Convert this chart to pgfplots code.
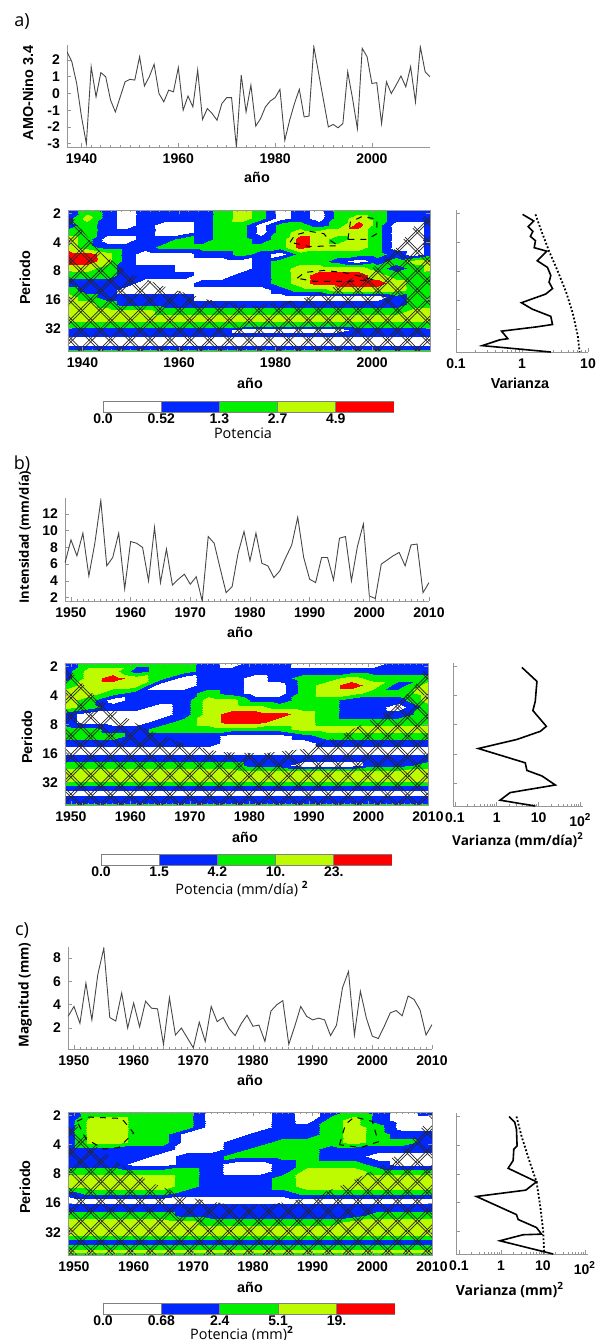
\documentclass[border=0pt]{standalone}
\usepackage{fontspec}
\setmainfont{Liberation Sans}
\newfontfamily\osans{Open Sans}
\usepackage{pgfplots}
\usepackage{pgfplotstable}
\pgfplotsset{compat=1.18}
\usetikzlibrary{patterns.meta}
\definecolor{wblue}{RGB}{0,40,255}
\definecolor{wgreen}{RGB}{0,240,0}
\definecolor{wyellow}{RGB}{190,250,0}
\definecolor{wred}{RGB}{255,0,0}
\definecolor{axg}{RGB}{150,150,150}
\newcommand{\tl}{\bfseries\fontsize{7}{8}\selectfont}
\newcommand{\lbl}{\bfseries\fontsize{7.2}{8.5}\selectfont}
\pgfplotsset{
  colormap={wav}{color(0cm)=(white) color(1cm)=(white) color(1.01cm)=(wblue) color(2cm)=(wblue)
    color(2.01cm)=(wgreen) color(3cm)=(wgreen) color(3.01cm)=(wyellow) color(4cm)=(wyellow)
    color(4.01cm)=(wred) color(5cm)=(wred)},
  mybase/.style={scale only axis, anchor=south west, tick label style={font=\tl},
    /pgf/number format/1000 sep={}, /pgf/number format/assume math mode=true,
    axis line style={axg}, tick style={axg, line width=0.4pt},
    major tick length=2pt, minor tick length=1.2pt},
  myserie/.style={mybase, axis x line*=bottom, axis y line*=left, minor x tick num=9},
  mywave/.style={mybase, y dir=reverse, ymin=0.88, ymax=5.78, ytick={1,2,3,4,5},
    yticklabels={2,4,8,16,32}, axis on top, colormap name=wav,
    point meta min=-0.5, point meta max=4.5, minor x tick num=9},
  mygws/.style={mybase, y dir=reverse, ymin=0.88, ymax=5.78, ytick={1,2,3,4,5},
    yticklabels={}, axis x line*=bottom, axis y line*=left},
  mycbar/.style={mybase, xmin=0, xmax=5, ymin=0, ymax=1, xtick={0,1,2,3,4}, ytick=\empty,
    major tick length=0pt, axis line style={draw=none}, xticklabel style={yshift=2.5pt}},
  h1/.style={draw=none, pattern={Lines[angle=45,distance=7pt,line width=0.35pt]}, pattern color=black!85},
  h2/.style={draw=none, pattern={Lines[angle=45,distance=7pt,xshift=1.6pt,line width=0.35pt]}, pattern color=black!85},
  h3/.style={draw=none, pattern={Lines[angle=-45,distance=7pt,line width=0.35pt]}, pattern color=black!85},
  h4/.style={draw=none, pattern={Lines[angle=-45,distance=7pt,xshift=1.6pt,line width=0.35pt]}, pattern color=black!85},
  sig/.style={black, dashed, line width=0.5pt},
  ser/.style={black!72, line width=0.45pt},
}
% cones of influence (year, octave of period: 1 = 2 yr)
\pgfplotstableread{
x y
1937 0.88
1940 1.6
1944 2.4
1950 3.1
1958 3.6
1966 4.0
1975 4.2
1985 4.0
1993 3.5
2000 2.9
2005 2.2
2009 1.4
2012 0.88
2012 5.78
1937 5.78
}\coiA
\pgfplotstableread{
x y
1949 0.88
1951 1.4
1954 2.0
1958 2.6
1962 3.1
1968 3.6
1975 3.95
1982 4.0
1989 3.85
1995 3.4
2000 2.9
2005 2.3
2008 1.6
2010 0.88
2010 5.78
1949 5.78
}\coiB
\pgfplotstableread{
x y
1949 0.88
1951 1.5
1954 2.1
1958 2.7
1963 3.3
1969 3.8
1976 4.05
1983 4.05
1990 3.8
1996 3.3
2001 2.8
2005 2.2
2008 1.5
2010 0.88
2010 5.78
1949 5.78
}\coiC
\begin{document}
\begin{tikzpicture}
\useasboundingbox (0,0) rectangle (299.5pt,-670pt);

% ---------------- a) ----------------
\begin{axis}[myserie, at={(33.5pt,-73.5pt)}, width=181.5pt, height=51pt,
  xmin=1937, xmax=2012, ymin=-3.2, ymax=2.9, xtick={1940,1960,1980,2000}, ytick={-3,-2,...,2}]
\addplot[ser] table {
1937 2.5
1938 1.9
1939 0.6
1940 -1.4
1941 -3.0
1942 1.6
1943 -0.2
1944 1.25
1945 1.0
1946 -0.4
1947 -1.1
1948 -0.2
1949 0.7
1950 0.85
1951 0.8
1952 2.2
1953 0.45
1954 1.0
1955 1.75
1956 0.0
1957 -0.5
1958 0.2
1959 0.1
1960 1.55
1961 -1.0
1962 -0.15
1963 -0.8
1964 1.4
1965 -1.55
1966 -0.9
1967 -1.2
1968 -1.6
1969 -0.6
1970 -0.25
1971 -0.25
1972 -3.2
1973 1.1
1974 -1.1
1975 0.5
1976 -1.95
1977 -1.5
1978 -0.8
1979 -0.45
1980 -0.25
1981 0.25
1982 -2.8
1983 -1.6
1984 -0.6
1985 0.25
1986 -1.4
1987 -1.35
1988 2.8
1989 1.2
1990 -0.4
1991 -2.0
1992 -1.85
1993 -2.05
1994 -1.8
1995 1.3
1996 -0.3
1997 -2.1
1998 2.7
1999 2.2
2000 0.6
2001 0.65
2002 -1.8
2003 0.7
2004 0.0
2005 0.5
2006 1.05
2007 0.4
2008 1.6
2009 -0.5
2010 2.8
2011 1.3
2012 1.0
};
\end{axis}

\begin{axis}[mywave, at={(34pt,-175.5pt)}, width=181pt, height=70.5pt,
  xmin=1937, xmax=2012, xtick={1940,1960,1980,2000}]
\addplot[surf, shader=interp, mesh/cols=20, point meta=\thisrow{z}] table[x=x, y=y, row sep=\\] {
x y z\\
1937 0.88 1\\1941 0.88 2\\1945 0.88 1\\1949 0.88 0\\1953 0.88 1\\1957 0.88 1\\1961 0.88 1\\1965 0.88 1\\1969 0.88 2\\1973 0.88 3\\1977 0.88 2\\1981 0.88 0\\1985 0.88 1\\1989 0.88 0\\1993 0.88 2\\1997 0.88 2\\2001 0.88 2\\2005 0.88 1\\2009 0.88 1\\2012 0.88 1\\
1937 1.15 1\\1941 1.15 3\\1945 1.15 1\\1949 1.15 0\\1953 1.15 1\\1957 1.15 1\\1961 1.15 1\\1965 1.15 1\\1969 1.15 2\\1973 1.15 3\\1977 1.15 2\\1981 1.15 0\\1985 1.15 1\\1989 1.15 0\\1993 1.15 2\\1997 1.15 3\\2001 1.15 2\\2005 1.15 1\\2009 1.15 1\\2012 1.15 1\\
1937 1.4 1\\1941 1.4 2\\1945 1.4 1\\1949 1.4 0\\1953 1.4 1\\1957 1.4 0\\1961 1.4 0\\1965 1.4 1\\1969 1.4 2\\1973 1.4 2\\1977 1.4 0\\1981 1.4 2\\1985 1.4 2\\1989 1.4 1\\1993 1.4 2\\1997 1.4 4\\2001 1.4 2\\2005 1.4 0\\2009 1.4 0\\2012 1.4 1\\
1937 1.65 2\\1941 1.65 2\\1945 1.65 1\\1949 1.65 1\\1953 1.65 1\\1957 1.65 0\\1961 1.65 0\\1965 1.65 1\\1969 1.65 2\\1973 1.65 2\\1977 1.65 0\\1981 1.65 2\\1985 1.65 3\\1989 1.65 3\\1993 1.65 3\\1997 1.65 3\\2001 1.65 2\\2005 1.65 0\\2009 1.65 0\\2012 1.65 1\\
1937 1.9 3\\1941 1.9 2\\1945 1.9 0\\1949 1.9 0\\1953 1.9 1\\1957 1.9 1\\1961 1.9 2\\1965 1.9 1\\1969 1.9 2\\1973 1.9 2\\1977 1.9 1\\1981 1.9 2\\1985 1.9 4\\1989 1.9 3\\1993 1.9 2\\1997 1.9 3\\2001 1.9 2\\2005 1.9 0\\2009 1.9 0\\2012 1.9 1\\
1937 2.15 3\\1941 2.15 2\\1945 2.15 1\\1949 2.15 1\\1953 2.15 1\\1957 2.15 2\\1961 2.15 2\\1965 2.15 2\\1969 2.15 2\\1973 2.15 2\\1977 2.15 2\\1981 2.15 2\\1985 2.15 4\\1989 2.15 3\\1993 2.15 3\\1997 2.15 3\\2001 2.15 2\\2005 2.15 0\\2009 2.15 0\\2012 2.15 1\\
1937 2.4 4\\1941 2.4 4\\1945 2.4 3\\1949 2.4 1\\1953 2.4 0\\1957 2.4 0\\1961 2.4 0\\1965 2.4 1\\1969 2.4 1\\1973 2.4 2\\1977 2.4 1\\1981 2.4 0\\1985 2.4 2\\1989 2.4 2\\1993 2.4 2\\1997 2.4 2\\2001 2.4 2\\2005 2.4 1\\2009 2.4 0\\2012 2.4 1\\
1937 2.65 4\\1941 2.65 4\\1945 2.65 3\\1949 2.65 1\\1953 2.65 0\\1957 2.65 0\\1961 2.65 0\\1965 2.65 0\\1969 2.65 0\\1973 2.65 0\\1977 2.65 1\\1981 2.65 2\\1985 2.65 2\\1989 2.65 2\\1993 2.65 1\\1997 2.65 0\\2001 2.65 1\\2005 2.65 2\\2009 2.65 3\\2012 2.65 3\\
1937 2.9 3\\1941 2.9 3\\1945 2.9 2\\1949 2.9 1\\1953 2.9 1\\1957 2.9 1\\1961 2.9 0\\1965 2.9 0\\1969 2.9 0\\1973 2.9 0\\1977 2.9 1\\1981 2.9 2\\1985 2.9 3\\1989 2.9 3\\1993 2.9 3\\1997 2.9 3\\2001 2.9 2\\2005 2.9 1\\2009 2.9 2\\2012 2.9 3\\
1937 3.15 2\\1941 3.15 2\\1945 3.15 2\\1949 3.15 1\\1953 3.15 1\\1957 3.15 1\\1961 3.15 1\\1965 3.15 0\\1969 3.15 0\\1973 3.15 1\\1977 3.15 1\\1981 3.15 2\\1985 3.15 3\\1989 3.15 4\\1993 3.15 4\\1997 3.15 4\\2001 3.15 3\\2005 3.15 2\\2009 3.15 2\\2012 3.15 2\\
1937 3.4 1\\1941 3.4 1\\1945 3.4 1\\1949 3.4 1\\1953 3.4 0\\1957 3.4 0\\1961 3.4 0\\1965 3.4 1\\1969 3.4 1\\1973 3.4 1\\1977 3.4 1\\1981 3.4 2\\1985 3.4 3\\1989 3.4 4\\1993 3.4 4\\1997 3.4 4\\2001 3.4 4\\2005 3.4 3\\2009 3.4 2\\2012 3.4 2\\
1937 3.65 2\\1941 3.65 1\\1945 3.65 1\\1949 3.65 0\\1953 3.65 0\\1957 3.65 0\\1961 3.65 0\\1965 3.65 0\\1969 3.65 0\\1973 3.65 0\\1977 3.65 0\\1981 3.65 1\\1985 3.65 2\\1989 3.65 2\\1993 3.65 3\\1997 3.65 3\\2001 3.65 3\\2005 3.65 3\\2009 3.65 2\\2012 3.65 2\\
1937 3.9 3\\1941 3.9 2\\1945 3.9 1\\1949 3.9 1\\1953 3.9 1\\1957 3.9 1\\1961 3.9 1\\1965 3.9 0\\1969 3.9 0\\1973 3.9 0\\1977 3.9 0\\1981 3.9 0\\1985 3.9 0\\1989 3.9 0\\1993 3.9 0\\1997 3.9 0\\2001 3.9 0\\2005 3.9 1\\2009 3.9 2\\2012 3.9 2\\
1937 4.15 3\\1941 4.15 3\\1945 4.15 2\\1949 4.15 1\\1953 4.15 1\\1957 4.15 1\\1961 4.15 1\\1965 4.15 1\\1969 4.15 1\\1973 4.15 1\\1977 4.15 1\\1981 4.15 1\\1985 4.15 1\\1989 4.15 1\\1993 4.15 1\\1997 4.15 1\\2001 4.15 1\\2005 4.15 1\\2009 4.15 2\\2012 4.15 2\\
1937 4.4 3\\1941 4.4 3\\1945 4.4 3\\1949 4.4 3\\1953 4.4 3\\1957 4.4 2\\1961 4.4 2\\1965 4.4 2\\1969 4.4 2\\1973 4.4 2\\1977 4.4 2\\1981 4.4 2\\1985 4.4 2\\1989 4.4 2\\1993 4.4 2\\1997 4.4 2\\2001 4.4 2\\2005 4.4 2\\2009 4.4 3\\2012 4.4 3\\
1937 4.65 3\\1941 4.65 3\\1945 4.65 3\\1949 4.65 3\\1953 4.65 3\\1957 4.65 3\\1961 4.65 3\\1965 4.65 3\\1969 4.65 3\\1973 4.65 3\\1977 4.65 3\\1981 4.65 3\\1985 4.65 3\\1989 4.65 3\\1993 4.65 3\\1997 4.65 3\\2001 4.65 3\\2005 4.65 3\\2009 4.65 3\\2012 4.65 3\\
1937 4.9 2\\1941 4.9 2\\1945 4.9 2\\1949 4.9 2\\1953 4.9 2\\1957 4.9 2\\1961 4.9 2\\1965 4.9 2\\1969 4.9 2\\1973 4.9 2\\1977 4.9 2\\1981 4.9 2\\1985 4.9 2\\1989 4.9 2\\1993 4.9 2\\1997 4.9 2\\2001 4.9 2\\2005 4.9 2\\2009 4.9 2\\2012 4.9 2\\
1937 5.05 1\\1941 5.05 1\\1945 5.05 1\\1949 5.05 1\\1953 5.05 1\\1957 5.05 1\\1961 5.05 1\\1965 5.05 1\\1969 5.05 1\\1973 5.05 0\\1977 5.05 0\\1981 5.05 0\\1985 5.05 0\\1989 5.05 0\\1993 5.05 0\\1997 5.05 1\\2001 5.05 1\\2005 5.05 1\\2009 5.05 1\\2012 5.05 1\\
1937 5.2 1\\1941 5.2 1\\1945 5.2 1\\1949 5.2 1\\1953 5.2 1\\1957 5.2 1\\1961 5.2 1\\1965 5.2 1\\1969 5.2 1\\1973 5.2 1\\1977 5.2 1\\1981 5.2 1\\1985 5.2 1\\1989 5.2 1\\1993 5.2 1\\1997 5.2 1\\2001 5.2 1\\2005 5.2 1\\2009 5.2 1\\2012 5.2 1\\
1937 5.35 0\\1941 5.35 0\\1945 5.35 0\\1949 5.35 0\\1953 5.35 0\\1957 5.35 0\\1961 5.35 0\\1965 5.35 0\\1969 5.35 0\\1973 5.35 0\\1977 5.35 0\\1981 5.35 0\\1985 5.35 0\\1989 5.35 0\\1993 5.35 0\\1997 5.35 0\\2001 5.35 0\\2005 5.35 0\\2009 5.35 0\\2012 5.35 0\\
1937 5.5 0\\1941 5.5 0\\1945 5.5 0\\1949 5.5 0\\1953 5.5 0\\1957 5.5 0\\1961 5.5 0\\1965 5.5 0\\1969 5.5 0\\1973 5.5 0\\1977 5.5 0\\1981 5.5 0\\1985 5.5 0\\1989 5.5 0\\1993 5.5 0\\1997 5.5 0\\2001 5.5 0\\2005 5.5 0\\2009 5.5 0\\2012 5.5 0\\
1937 5.65 1\\1941 5.65 1\\1945 5.65 1\\1949 5.65 1\\1953 5.65 1\\1957 5.65 1\\1961 5.65 1\\1965 5.65 1\\1969 5.65 1\\1973 5.65 1\\1977 5.65 1\\1981 5.65 1\\1985 5.65 1\\1989 5.65 1\\1993 5.65 1\\1997 5.65 1\\2001 5.65 1\\2005 5.65 1\\2009 5.65 1\\2012 5.65 1\\
1937 5.78 2\\1941 5.78 2\\1945 5.78 2\\1949 5.78 2\\1953 5.78 2\\1957 5.78 2\\1961 5.78 2\\1965 5.78 2\\1969 5.78 2\\1973 5.78 2\\1977 5.78 2\\1981 5.78 2\\1985 5.78 2\\1989 5.78 2\\1993 5.78 2\\1997 5.78 2\\2001 5.78 2\\2005 5.78 2\\2009 5.78 2\\2012 5.78 2\\
};
\addplot[h1] table {\coiA};
\addplot[h2] table {\coiA};
\addplot[h3] table {\coiA};
\addplot[h4] table {\coiA};
\addplot[sig] coordinates {(1984.5,3.25)(1986,3.05)(1990,2.98)(1994,3.05)(1998,3.2)(2000,3.3)(1995,3.36)(1988,3.36)(1984.5,3.25)};
\addplot[sig] coordinates {(1983,2.0)(1984,1.75)(1987,1.62)(1990,1.7)(1991,1.9)(1993,2.12)(1987,2.15)(1983,2.0)};
\addplot[sig] coordinates {(1995,1.9)(1995.5,1.3)(1998,1.1)(2001,1.2)(2001,1.7)(1999,1.9)(1995,1.9)};
\end{axis}

\begin{axis}[mygws, xmode=log, at={(228pt,-176pt)}, width=66pt, height=71pt, xmin=0.1, xmax=10,
  xtick={0.1,1,10}, xticklabels={0.1,1,10}]
\addplot[black, line width=0.8pt] coordinates {(1.02,1.03)(1.51,1.26)(1.24,1.45)(1.46,1.62)(1.34,1.79)(1.60,1.94)(1.53,2.18)(2.37,2.30)(1.70,2.63)(2.43,2.86)(2.73,3.14)(2.57,3.37)(2.90,3.59)(2.29,3.78)(0.98,4.08)(1.43,4.30)(2.73,4.55)(2.90,4.83)(1.70,4.91)(0.49,5.06)(0.61,5.32)(0.46,5.36)(0.25,5.56)(2.73,5.78)};
\addplot[black, densely dotted, line width=0.9pt] coordinates {(1.60,1.03)(1.98,1.62)(2.57,2.30)(3.45,2.97)(4.64,3.70)(5.88,4.44)(7.02,5.23)(7.45,5.78)};
\end{axis}

\begin{axis}[mycbar, at={(51.5pt,-206pt)}, width=145.5pt, height=5.5pt, xticklabels={0.0,0.52,1.3,2.7,4.9}]
\addplot[draw=black!50, fill=white] coordinates {(0,0)(1,0)(1,1)(0,1)(0,0)};
\addplot[draw=black!50, fill=wblue] coordinates {(1,0)(2,0)(2,1)(1,1)(1,0)};
\addplot[draw=black!50, fill=wgreen] coordinates {(2,0)(3,0)(3,1)(2,1)(2,0)};
\addplot[draw=black!50, fill=wyellow] coordinates {(3,0)(4,0)(4,1)(3,1)(3,0)};
\addplot[draw=black!50, fill=wred] coordinates {(4,0)(5,0)(5,1)(4,1)(4,0)};
\end{axis}

\node[font=\osans\fontsize{9}{10}\selectfont] at (11pt,-10.5pt) {a)};
\node[rotate=90, font=\lbl] at (14pt,-46.5pt) {AMO-Nino 3.4};
\node[font=\lbl] at (128.5pt,-88.5pt) {año};
\node[rotate=90, font=\lbl] at (12.5pt,-139pt) {Periodo};
\node[font=\lbl] at (125pt,-191.5pt) {año};
\node[font=\lbl] at (260pt,-191.5pt) {Varianza};
\node[font=\osans\fontsize{7.2}{8}\selectfont] at (121.5pt,-216.5pt) {Potencia};

% ---------------- b) ----------------
\begin{axis}[myserie, at={(32.5pt,-300.5pt)}, width=182pt, height=51.5pt,
  xmin=1949, xmax=2010, ymin=1.6, ymax=13.9, xtick={1950,1960,...,2010}, ytick={2,4,...,12}]
\addplot[ser] table {
1949 6.15
1950 8.9
1951 7.0
1952 9.7
1953 4.6
1954 8.5
1955 13.6
1956 5.8
1957 6.8
1958 9.7
1959 3.05
1960 8.7
1961 8.5
1962 8.0
1963 4.0
1964 10.4
1965 3.8
1966 7.8
1967 3.5
1968 4.2
1969 4.8
1970 3.6
1971 4.5
1972 1.6
1973 9.3
1974 8.5
1975 5.5
1976 2.6
1977 3.3
1978 7.3
1979 9.9
1980 6.4
1981 9.7
1982 6.1
1983 5.8
1984 4.4
1985 5.2
1986 6.8
1987 8.3
1988 11.6
1989 6.8
1990 4.2
1991 3.8
1992 6.8
1993 6.8
1994 4.1
1995 9.1
1996 9.3
1997 4.0
1998 8.1
1999 10.8
2000 2.2
2001 1.9
2002 6.0
2003 6.5
2004 7.0
2005 7.4
2006 5.8
2007 8.3
2008 8.4
2009 2.6
2010 3.8
};
\end{axis}

\begin{axis}[mywave, at={(32.5pt,-402.5pt)}, width=181.5pt, height=71pt,
  xmin=1949, xmax=2010, xtick={1950,1960,...,2010}]
\addplot[surf, shader=interp, mesh/cols=16, point meta=\thisrow{z}] table[x=x, y=y, row sep=\\] {
x y z\\
1949 0.88 1\\1953 0.88 2\\1957 0.88 2\\1961 0.88 2\\1965 0.88 2\\1969 0.88 2\\1973 0.88 1\\1977 0.88 0\\1981 0.88 1\\1985 0.88 1\\1989 0.88 0\\1993 0.88 0\\1997 0.88 0\\2001 0.88 0\\2005 0.88 1\\2010 0.88 1\\
1949 1.15 1\\1953 1.15 3\\1957 1.15 3\\1961 1.15 1\\1965 1.15 2\\1969 1.15 2\\1973 1.15 1\\1977 1.15 1\\1981 1.15 1\\1985 1.15 1\\1989 1.15 1\\1993 1.15 1\\1997 1.15 1\\2001 1.15 1\\2005 1.15 1\\2010 1.15 1\\
1949 1.4 1\\1953 1.4 3\\1957 1.4 4\\1961 1.4 3\\1965 1.4 2\\1969 1.4 0\\1973 1.4 1\\1977 1.4 1\\1981 1.4 0\\1985 1.4 1\\1989 1.4 2\\1993 1.4 2\\1997 1.4 3\\2001 1.4 2\\2005 1.4 2\\2010 1.4 2\\
1949 1.65 2\\1953 1.65 3\\1957 1.65 3\\1961 1.65 3\\1965 1.65 0\\1969 1.65 0\\1973 1.65 1\\1977 1.65 1\\1981 1.65 0\\1985 1.65 0\\1989 1.65 2\\1993 1.65 3\\1997 1.65 4\\2001 1.65 3\\2005 1.65 1\\2010 1.65 3\\
1949 1.9 3\\1953 1.9 3\\1957 1.9 2\\1961 1.9 1\\1965 1.9 1\\1969 1.9 1\\1973 1.9 2\\1977 1.9 1\\1981 1.9 0\\1985 1.9 0\\1989 1.9 2\\1993 1.9 3\\1997 1.9 3\\2001 1.9 2\\2005 1.9 2\\2010 1.9 3\\
1949 2.15 3\\1953 2.15 2\\1957 2.15 0\\1961 2.15 1\\1965 2.15 1\\1969 2.15 1\\1973 2.15 3\\1977 2.15 3\\1981 2.15 1\\1985 2.15 1\\1989 2.15 2\\1993 2.15 2\\1997 2.15 1\\2001 2.15 1\\2005 2.15 1\\2010 2.15 3\\
1949 2.4 3\\1953 2.4 2\\1957 2.4 1\\1961 2.4 1\\1965 2.4 0\\1969 2.4 1\\1973 2.4 3\\1977 2.4 3\\1981 2.4 3\\1985 2.4 2\\1989 2.4 2\\1993 2.4 2\\1997 2.4 1\\2001 2.4 1\\2005 2.4 0\\2010 2.4 2\\
1949 2.65 1\\1953 2.65 0\\1957 2.65 0\\1961 2.65 0\\1965 2.65 0\\1969 2.65 1\\1973 2.65 3\\1977 2.65 4\\1981 2.65 4\\1985 2.65 4\\1989 2.65 3\\1993 2.65 2\\1997 2.65 1\\2001 2.65 1\\2005 2.65 1\\2010 2.65 2\\
1949 2.9 1\\1953 2.9 0\\1957 2.9 0\\1961 2.9 0\\1965 2.9 1\\1969 2.9 2\\1973 2.9 3\\1977 2.9 4\\1981 2.9 4\\1985 2.9 3\\1989 2.9 3\\1993 2.9 2\\1997 2.9 2\\2001 2.9 2\\2005 2.9 2\\2010 2.9 2\\
1949 3.15 2\\1953 3.15 2\\1957 3.15 1\\1961 3.15 1\\1965 3.15 2\\1969 3.15 2\\1973 3.15 2\\1977 3.15 2\\1981 3.15 2\\1985 3.15 2\\1989 3.15 3\\1993 3.15 3\\1997 3.15 3\\2001 3.15 3\\2005 3.15 3\\2010 3.15 3\\
1949 3.4 2\\1953 3.4 2\\1957 3.4 2\\1961 3.4 1\\1965 3.4 1\\1969 3.4 1\\1973 3.4 1\\1977 3.4 0\\1981 3.4 0\\1985 3.4 0\\1989 3.4 1\\1993 3.4 2\\1997 3.4 2\\2001 3.4 2\\2005 3.4 2\\2010 3.4 2\\
1949 3.65 1\\1953 3.65 1\\1957 3.65 1\\1961 3.65 1\\1965 3.65 1\\1969 3.65 1\\1973 3.65 1\\1977 3.65 0\\1981 3.65 0\\1985 3.65 0\\1989 3.65 0\\1993 3.65 1\\1997 3.65 1\\2001 3.65 1\\2005 3.65 1\\2010 3.65 1\\
1949 3.9 0\\1953 3.9 0\\1957 3.9 0\\1961 3.9 0\\1965 3.9 0\\1969 3.9 0\\1973 3.9 0\\1977 3.9 0\\1981 3.9 0\\1985 3.9 0\\1989 3.9 0\\1993 3.9 0\\1997 3.9 0\\2001 3.9 0\\2005 3.9 0\\2010 3.9 0\\
1949 4.15 1\\1953 4.15 1\\1957 4.15 1\\1961 4.15 1\\1965 4.15 1\\1969 4.15 1\\1973 4.15 1\\1977 4.15 1\\1981 4.15 1\\1985 4.15 1\\1989 4.15 1\\1993 4.15 1\\1997 4.15 1\\2001 4.15 1\\2005 4.15 1\\2010 4.15 1\\
1949 4.4 2\\1953 4.4 2\\1957 4.4 2\\1961 4.4 2\\1965 4.4 2\\1969 4.4 2\\1973 4.4 2\\1977 4.4 2\\1981 4.4 1\\1985 4.4 1\\1989 4.4 0\\1993 4.4 0\\1997 4.4 0\\2001 4.4 1\\2005 4.4 1\\2010 4.4 2\\
1949 4.65 3\\1953 4.65 3\\1957 4.65 3\\1961 4.65 3\\1965 4.65 3\\1969 4.65 3\\1973 4.65 3\\1977 4.65 3\\1981 4.65 3\\1985 4.65 3\\1989 4.65 3\\1993 4.65 3\\1997 4.65 3\\2001 4.65 3\\2005 4.65 3\\2010 4.65 3\\
1949 4.9 3\\1953 4.9 3\\1957 4.9 3\\1961 4.9 3\\1965 4.9 3\\1969 4.9 3\\1973 4.9 3\\1977 4.9 3\\1981 4.9 3\\1985 4.9 3\\1989 4.9 3\\1993 4.9 3\\1997 4.9 3\\2001 4.9 3\\2005 4.9 3\\2010 4.9 3\\
1949 5.05 2\\1953 5.05 2\\1957 5.05 2\\1961 5.05 2\\1965 5.05 2\\1969 5.05 2\\1973 5.05 2\\1977 5.05 2\\1981 5.05 2\\1985 5.05 2\\1989 5.05 2\\1993 5.05 2\\1997 5.05 2\\2001 5.05 2\\2005 5.05 2\\2010 5.05 2\\
1949 5.2 1\\1953 5.2 1\\1957 5.2 1\\1961 5.2 1\\1965 5.2 1\\1969 5.2 1\\1973 5.2 1\\1977 5.2 1\\1981 5.2 1\\1985 5.2 1\\1989 5.2 1\\1993 5.2 1\\1997 5.2 1\\2001 5.2 1\\2005 5.2 1\\2010 5.2 1\\
1949 5.35 0\\1953 5.35 0\\1957 5.35 0\\1961 5.35 0\\1965 5.35 0\\1969 5.35 0\\1973 5.35 0\\1977 5.35 0\\1981 5.35 0\\1985 5.35 0\\1989 5.35 0\\1993 5.35 0\\1997 5.35 0\\2001 5.35 0\\2005 5.35 0\\2010 5.35 0\\
1949 5.5 1\\1953 5.5 1\\1957 5.5 1\\1961 5.5 1\\1965 5.5 1\\1969 5.5 1\\1973 5.5 1\\1977 5.5 1\\1981 5.5 1\\1985 5.5 1\\1989 5.5 1\\1993 5.5 1\\1997 5.5 1\\2001 5.5 1\\2005 5.5 1\\2010 5.5 1\\
1949 5.65 1\\1953 5.65 1\\1957 5.65 1\\1961 5.65 1\\1965 5.65 1\\1969 5.65 1\\1973 5.65 1\\1977 5.65 1\\1981 5.65 1\\1985 5.65 1\\1989 5.65 1\\1993 5.65 1\\1997 5.65 1\\2001 5.65 1\\2005 5.65 1\\2010 5.65 1\\
1949 5.78 2\\1953 5.78 2\\1957 5.78 2\\1961 5.78 2\\1965 5.78 2\\1969 5.78 2\\1973 5.78 2\\1977 5.78 2\\1981 5.78 2\\1985 5.78 2\\1989 5.78 2\\1993 5.78 2\\1997 5.78 2\\2001 5.78 2\\2005 5.78 2\\2010 5.78 2\\
};
\addplot[h1] table {\coiB};
\addplot[h2] table {\coiB};
\addplot[h3] table {\coiB};
\addplot[h4] table {\coiB};
\end{axis}

\begin{axis}[mygws, xmode=log, at={(226.5pt,-403pt)}, width=65pt, height=71.5pt, xmin=0.09, xmax=115,
  xtick={0.1,1,10,100}, xticklabels={0.1,1,10,10\textsuperscript{2}}]
\addplot[black, line width=0.8pt] coordinates {(3.98,1.03)(9.12,1.51)(8.32,2.19)(7.31,2.51)(15.3,3.05)(11.0,3.22)(3.02,3.50)(0.363,3.81)(4.79,4.30)(5.25,4.56)(12.0,4.75)(25.1,5.06)(2.09,5.32)(1.20,5.58)(8.32,5.78)};
\end{axis}

\begin{axis}[mycbar, at={(50.5pt,-432.5pt)}, width=145.5pt, height=5.5pt, xticklabels={0.0,1.5,4.2,10.,23.}]
\addplot[draw=black!50, fill=white] coordinates {(0,0)(1,0)(1,1)(0,1)(0,0)};
\addplot[draw=black!50, fill=wblue] coordinates {(1,0)(2,0)(2,1)(1,1)(1,0)};
\addplot[draw=black!50, fill=wgreen] coordinates {(2,0)(3,0)(3,1)(2,1)(2,0)};
\addplot[draw=black!50, fill=wyellow] coordinates {(3,0)(4,0)(4,1)(3,1)(3,0)};
\addplot[draw=black!50, fill=wred] coordinates {(4,0)(5,0)(5,1)(4,1)(4,0)};
\end{axis}

\node[font=\osans\fontsize{9}{10}\selectfont] at (11pt,-232pt) {b)};
\node[rotate=90, font=\osans\bfseries\fontsize{6.5}{8}\selectfont] at (12.5pt,-268.5pt) {Intensidad (mm/día)};
\node[font=\lbl] at (120pt,-316pt) {año};
\node[rotate=90, font=\lbl] at (13.5pt,-368.5pt) {Periodo};
\node[font=\lbl] at (122.5pt,-418.5pt) {año};
\node[font=\osans\bfseries\fontsize{6.8}{8}\selectfont] at (259pt,-420pt) {Varianza (mm/día)\textsuperscript{2}};
\node[font=\osans\fontsize{7.2}{8}\selectfont] at (121pt,-444.5pt) {Potencia (mm/día)~\textsuperscript{\bfseries 2}};

% ---------------- c) ----------------
\begin{axis}[myserie, at={(34pt,-524.5pt)}, width=182pt, height=51pt,
  xmin=1949, xmax=2010, ymin=0.2, ymax=8.95, xtick={1950,1960,...,2010}, ytick={2,4,6,8}]
\addplot[ser] table {
1949 3.0
1950 3.85
1951 2.4
1952 5.85
1953 2.7
1954 6.6
1955 8.85
1956 2.9
1957 2.6
1958 5.0
1959 2.0
1960 4.15
1961 2.1
1962 4.3
1963 3.7
1964 3.65
1965 0.6
1966 4.6
1967 1.4
1968 2.0
1969 1.15
1970 0.3
1971 2.5
1972 0.85
1973 3.85
1974 2.55
1975 2.9
1976 1.95
1977 1.35
1978 2.35
1979 3.1
1980 2.15
1981 2.25
1982 0.85
1983 3.45
1984 4.0
1985 4.35
1986 0.6
1987 2.15
1988 3.85
1989 3.0
1990 2.7
1991 2.85
1992 2.7
1993 1.35
1994 2.25
1995 5.45
1996 6.85
1997 1.4
1998 5.15
1999 2.85
2000 1.3
2001 1.1
2002 2.15
2003 3.3
2004 3.5
2005 3.05
2006 4.75
2007 4.45
2008 3.55
2009 1.4
2010 2.3
};
\end{axis}

\begin{axis}[mywave, at={(34pt,-627.5pt)}, width=182pt, height=71.5pt,
  xmin=1949, xmax=2010, xtick={1950,1960,...,2010}]
\addplot[surf, shader=interp, mesh/cols=16, point meta=\thisrow{z}] table[x=x, y=y, row sep=\\] {
x y z\\
1949 0.88 1\\1953 0.88 2\\1957 0.88 2\\1961 0.88 2\\1965 0.88 2\\1969 0.88 2\\1973 0.88 0\\1977 0.88 0\\1981 0.88 0\\1985 0.88 1\\1989 0.88 0\\1993 0.88 1\\1997 0.88 2\\2001 0.88 1\\2005 0.88 0\\2010 0.88 1\\
1949 1.15 1\\1953 1.15 3\\1957 1.15 3\\1961 1.15 2\\1965 1.15 2\\1969 1.15 2\\1973 1.15 0\\1977 1.15 0\\1981 1.15 0\\1985 1.15 1\\1989 1.15 0\\1993 1.15 2\\1997 1.15 3\\2001 1.15 1\\2005 1.15 0\\2010 1.15 0\\
1949 1.4 1\\1953 1.4 3\\1957 1.4 3\\1961 1.4 2\\1965 1.4 2\\1969 1.4 2\\1973 1.4 0\\1977 1.4 0\\1981 1.4 0\\1985 1.4 1\\1989 1.4 1\\1993 1.4 2\\1997 1.4 3\\2001 1.4 2\\2005 1.4 0\\2010 1.4 0\\
1949 1.65 1\\1953 1.65 3\\1957 1.65 3\\1961 1.65 2\\1965 1.65 2\\1969 1.65 0\\1973 1.65 0\\1977 1.65 0\\1981 1.65 1\\1985 1.65 1\\1989 1.65 1\\1993 1.65 2\\1997 1.65 3\\2001 1.65 2\\2005 1.65 1\\2010 1.65 1\\
1949 1.9 1\\1953 1.9 3\\1957 1.9 3\\1961 1.9 2\\1965 1.9 2\\1969 1.9 0\\1973 1.9 0\\1977 1.9 1\\1981 1.9 1\\1985 1.9 2\\1989 1.9 2\\1993 1.9 2\\1997 1.9 3\\2001 1.9 2\\2005 1.9 2\\2010 1.9 1\\
1949 2.15 1\\1953 2.15 1\\1957 2.15 1\\1961 2.15 1\\1965 2.15 1\\1969 2.15 0\\1973 2.15 0\\1977 2.15 1\\1981 2.15 2\\1985 2.15 2\\1989 2.15 2\\1993 2.15 1\\1997 2.15 1\\2001 2.15 1\\2005 2.15 1\\2010 2.15 1\\
1949 2.4 1\\1953 2.4 1\\1957 2.4 1\\1961 2.4 1\\1965 2.4 0\\1969 2.4 1\\1973 2.4 1\\1977 2.4 2\\1981 2.4 2\\1985 2.4 2\\1989 2.4 2\\1993 2.4 1\\1997 2.4 1\\2001 2.4 0\\2005 2.4 0\\2010 2.4 0\\
1949 2.65 1\\1953 2.65 1\\1957 2.65 1\\1961 2.65 0\\1965 2.65 0\\1969 2.65 1\\1973 2.65 1\\1977 2.65 0\\1981 2.65 0\\1985 2.65 1\\1989 2.65 2\\1993 2.65 2\\1997 2.65 2\\2001 2.65 1\\2005 2.65 0\\2010 2.65 0\\
1949 2.9 2\\1953 2.9 2\\1957 2.9 2\\1961 2.9 2\\1965 2.9 2\\1969 2.9 2\\1973 2.9 1\\1977 2.9 0\\1981 2.9 0\\1985 2.9 1\\1989 2.9 3\\1993 2.9 3\\1997 2.9 3\\2001 2.9 2\\2005 2.9 2\\2010 2.9 2\\
1949 3.15 3\\1953 3.15 3\\1957 3.15 3\\1961 3.15 3\\1965 3.15 3\\1969 3.15 2\\1973 3.15 1\\1977 3.15 1\\1981 3.15 1\\1985 3.15 2\\1989 3.15 3\\1993 3.15 3\\1997 3.15 3\\2001 3.15 3\\2005 3.15 3\\2010 3.15 3\\
1949 3.4 3\\1953 3.4 3\\1957 3.4 3\\1961 3.4 3\\1965 3.4 3\\1969 3.4 2\\1973 3.4 1\\1977 3.4 1\\1981 3.4 1\\1985 3.4 2\\1989 3.4 3\\1993 3.4 3\\1997 3.4 3\\2001 3.4 3\\2005 3.4 3\\2010 3.4 3\\
1949 3.65 1\\1953 3.65 2\\1957 3.65 2\\1961 3.65 2\\1965 3.65 2\\1969 3.65 1\\1973 3.65 1\\1977 3.65 1\\1981 3.65 1\\1985 3.65 1\\1989 3.65 2\\1993 3.65 2\\1997 3.65 2\\2001 3.65 2\\2005 3.65 2\\2010 3.65 2\\
1949 3.9 0\\1953 3.9 0\\1957 3.9 0\\1961 3.9 0\\1965 3.9 0\\1969 3.9 0\\1973 3.9 0\\1977 3.9 0\\1981 3.9 0\\1985 3.9 0\\1989 3.9 0\\1993 3.9 0\\1997 3.9 0\\2001 3.9 0\\2005 3.9 0\\2010 3.9 0\\
1949 4.15 1\\1953 4.15 1\\1957 4.15 1\\1961 4.15 1\\1965 4.15 1\\1969 4.15 1\\1973 4.15 1\\1977 4.15 1\\1981 4.15 1\\1985 4.15 1\\1989 4.15 1\\1993 4.15 1\\1997 4.15 1\\2001 4.15 1\\2005 4.15 1\\2010 4.15 1\\
1949 4.4 2\\1953 4.4 2\\1957 4.4 2\\1961 4.4 2\\1965 4.4 2\\1969 4.4 1\\1973 4.4 1\\1977 4.4 1\\1981 4.4 1\\1985 4.4 1\\1989 4.4 1\\1993 4.4 1\\1997 4.4 1\\2001 4.4 2\\2005 4.4 2\\2010 4.4 2\\
1949 4.65 3\\1953 4.65 3\\1957 4.65 3\\1961 4.65 3\\1965 4.65 3\\1969 4.65 3\\1973 4.65 2\\1977 4.65 2\\1981 4.65 2\\1985 4.65 2\\1989 4.65 2\\1993 4.65 2\\1997 4.65 3\\2001 4.65 3\\2005 4.65 3\\2010 4.65 3\\
1949 4.9 3\\1953 4.9 3\\1957 4.9 3\\1961 4.9 3\\1965 4.9 3\\1969 4.9 3\\1973 4.9 3\\1977 4.9 3\\1981 4.9 3\\1985 4.9 3\\1989 4.9 3\\1993 4.9 3\\1997 4.9 3\\2001 4.9 3\\2005 4.9 3\\2010 4.9 3\\
1949 5.05 3\\1953 5.05 3\\1957 5.05 3\\1961 5.05 3\\1965 5.05 3\\1969 5.05 3\\1973 5.05 3\\1977 5.05 3\\1981 5.05 3\\1985 5.05 3\\1989 5.05 3\\1993 5.05 3\\1997 5.05 3\\2001 5.05 3\\2005 5.05 3\\2010 5.05 3\\
1949 5.2 2\\1953 5.2 2\\1957 5.2 2\\1961 5.2 2\\1965 5.2 2\\1969 5.2 2\\1973 5.2 2\\1977 5.2 2\\1981 5.2 2\\1985 5.2 2\\1989 5.2 2\\1993 5.2 2\\1997 5.2 2\\2001 5.2 2\\2005 5.2 2\\2010 5.2 2\\
1949 5.35 1\\1953 5.35 1\\1957 5.35 1\\1961 5.35 1\\1965 5.35 1\\1969 5.35 1\\1973 5.35 1\\1977 5.35 1\\1981 5.35 1\\1985 5.35 1\\1989 5.35 1\\1993 5.35 1\\1997 5.35 1\\2001 5.35 1\\2005 5.35 1\\2010 5.35 1\\
1949 5.5 2\\1953 5.5 2\\1957 5.5 2\\1961 5.5 2\\1965 5.5 2\\1969 5.5 2\\1973 5.5 2\\1977 5.5 2\\1981 5.5 2\\1985 5.5 2\\1989 5.5 2\\1993 5.5 2\\1997 5.5 2\\2001 5.5 2\\2005 5.5 2\\2010 5.5 2\\
1949 5.65 3\\1953 5.65 3\\1957 5.65 3\\1961 5.65 3\\1965 5.65 3\\1969 5.65 3\\1973 5.65 3\\1977 5.65 3\\1981 5.65 3\\1985 5.65 3\\1989 5.65 3\\1993 5.65 3\\1997 5.65 3\\2001 5.65 3\\2005 5.65 3\\2010 5.65 3\\
1949 5.78 2\\1953 5.78 2\\1957 5.78 2\\1961 5.78 2\\1965 5.78 2\\1969 5.78 2\\1973 5.78 2\\1977 5.78 2\\1981 5.78 2\\1985 5.78 2\\1989 5.78 2\\1993 5.78 2\\1997 5.78 2\\2001 5.78 2\\2005 5.78 2\\2010 5.78 2\\
};
\addplot[h1] table {\coiC};
\addplot[h2] table {\coiC};
\addplot[h3] table {\coiC};
\addplot[h4] table {\coiC};
\addplot[sig] coordinates {(1950.5,1.2)(1952,1.05)(1958,1.1)(1960,1.6)(1957.5,2.1)(1955,2.15)(1952,1.8)(1950.5,1.2)};
\addplot[sig] coordinates {(1994.5,2.0)(1995.5,1.3)(1997,1.05)(2000,1.2)(2001,1.9)(1998,2.1)(1994.5,2.0)};
\end{axis}

\begin{axis}[mygws, xmode=log, at={(228pt,-627pt)}, width=66pt, height=70.5pt, xmin=0.085, xmax=118,
  xtick={0.1,1,10,100}, xticklabels={0.1,1,10,10\textsuperscript{2}}]
\addplot[black, line width=0.8pt] coordinates {(1.56,1.0)(2.13,1.20)(2.34,1.45)(2.42,2.02)(2.02,2.14)(1.95,2.53)(1.48,2.80)(7.02,3.27)(3.90,3.56)(0.26,3.78)(2.34,4.41)(2.56,4.58)(7.02,4.86)(9.23,5.09)(3.37,5.11)(0.94,5.32)(17.5,5.78)};
\addplot[black, densely dotted, line width=0.9pt] coordinates {(2.34,1.0)(3.08,1.68)(4.86,2.59)(7.02,3.27)(8.73,4.18)(10.1,4.98)(10.7,5.78)};
\end{axis}

\begin{axis}[mycbar, at={(51.5pt,-657pt)}, width=146pt, height=5.5pt, xticklabels={0.0,0.68,2.4,5.1,19.}]
\addplot[draw=black!50, fill=white] coordinates {(0,0)(1,0)(1,1)(0,1)(0,0)};
\addplot[draw=black!50, fill=wblue] coordinates {(1,0)(2,0)(2,1)(1,1)(1,0)};
\addplot[draw=black!50, fill=wgreen] coordinates {(2,0)(3,0)(3,1)(2,1)(2,0)};
\addplot[draw=black!50, fill=wyellow] coordinates {(3,0)(4,0)(4,1)(3,1)(3,0)};
\addplot[draw=black!50, fill=wred] coordinates {(4,0)(5,0)(5,1)(4,1)(4,0)};
\end{axis}

\node[font=\osans\fontsize{9}{10}\selectfont] at (11pt,-465pt) {c)};
\node[rotate=90, font=\osans\bfseries\fontsize{6.8}{8}\selectfont] at (12.5pt,-497.5pt) {Magnitud (mm)};
\node[font=\lbl] at (125pt,-540pt) {año};
\node[rotate=90, font=\lbl] at (12.5pt,-593.5pt) {Periodo};
\node[font=\lbl] at (125pt,-643.5pt) {año};
\node[font=\osans\bfseries\fontsize{7}{8}\selectfont] at (255pt,-645pt) {Varianza (mm)\textsuperscript{2}};
\node[font=\osans\fontsize{7.2}{8}\selectfont] at (121pt,-667pt) {Potencia (mm)\textsuperscript{\bfseries 2}};
\end{tikzpicture}
\end{document}
